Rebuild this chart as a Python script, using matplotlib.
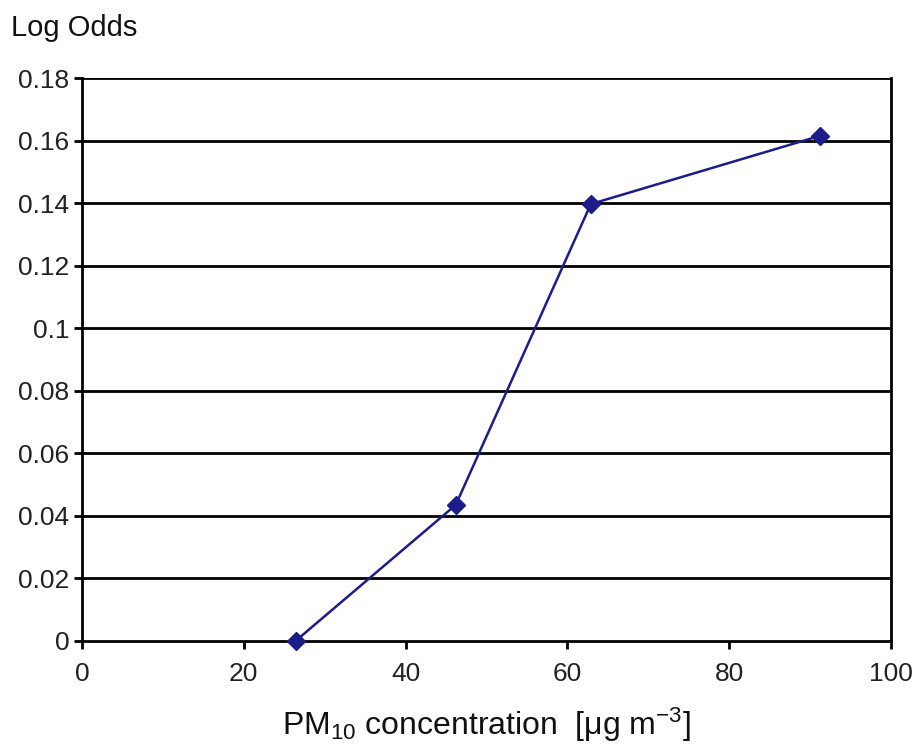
import matplotlib
matplotlib.use("Agg")
import matplotlib.pyplot as plt

pm10 = [26.4, 46.2, 62.9, 91.2]
log_odds = [0.0, 0.0435, 0.1397, 0.1615]

x_ticks = [0, 20, 40, 60, 80, 100]
y_ticks = [0, 0.02, 0.04, 0.06, 0.08, 0.1, 0.12, 0.14, 0.16, 0.18]
y_labels = ["0", "0.02", "0.04", "0.06", "0.08", "0.1", "0.12", "0.14", "0.16", "0.18"]

plt.rcParams['font.family'] = ['Liberation Sans', 'DejaVu Sans']
plt.rcParams['mathtext.fontset'] = 'custom'
plt.rcParams['mathtext.rm'] = 'Liberation Sans'
plt.rcParams['mathtext.it'] = 'Liberation Sans:italic'

fig = plt.figure(figsize=(9.17, 7.46), dpi=100)
ax = fig.add_axes([0.0894, 0.1408, 0.8822, 0.7546])

for y in y_ticks[1:]:
    ax.axhline(y, color='black', lw=2.0, zorder=1)

ax.plot(pm10, log_odds, color='#1c1c8a', lw=1.8, marker='D', markersize=9,
        zorder=3, clip_on=False)

ax.set_xlim(0, 100)
ax.set_ylim(0, 0.18)
ax.set_xticks(x_ticks)
ax.set_yticks(y_ticks)
ax.set_yticklabels(y_labels)
for s in ax.spines.values():
    s.set_linewidth(2.0)
ax.spines['top'].set_visible(False)
ax.tick_params(axis='both', direction='out', length=6, width=2, labelsize=19,
               colors='black', labelcolor='#222222', pad=3)
ax.tick_params(axis='x', pad=9)

fig.text(0.012, 0.963, 'Log Odds', fontsize=21, ha='left', va='center', color='#111111')
ax.set_xlabel(r'PM$_{10}$ concentration  [$\mathrm{\mu}$g m$^{-3}$]', fontsize=23,
              labelpad=14, color='#111111')

plt.savefig('out.png', dpi=100)
